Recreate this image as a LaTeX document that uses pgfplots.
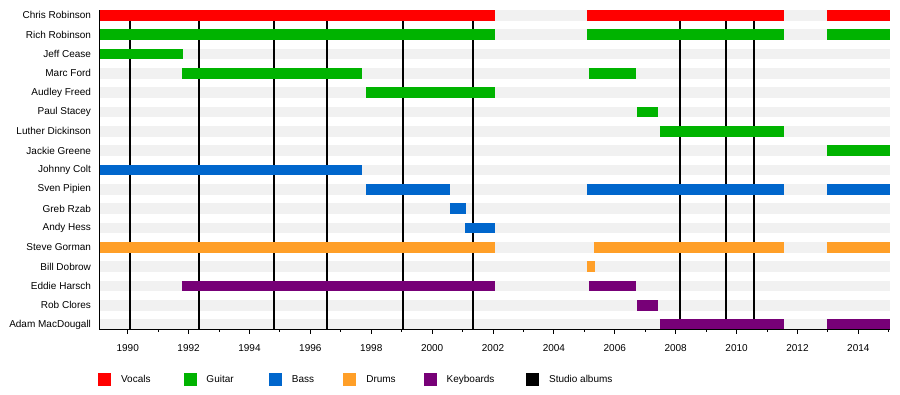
\documentclass[border=0pt]{standalone}
\usepackage{pgfplots}
\pgfplotsset{compat=1.18}
\usepackage{fontspec}
\setmainfont{Liberation Sans}
\definecolor{cvoc}{HTML}{FF0000}
\definecolor{cgui}{HTML}{00B300}
\definecolor{cbas}{HTML}{0066CC}
\definecolor{cdru}{HTML}{FF9F28}
\definecolor{ckey}{HTML}{770077}
\definecolor{cstripe}{HTML}{F1F1F1}
\begin{document}
\begin{tikzpicture}
\begin{axis}[
  name=ax,
  scale only axis,
  width=790pt, height=320pt,
  xmin=1989.09, xmax=2015.04,
  ymin=-0.276, ymax=16.276,
  axis on top,
  axis x line*=bottom,
  axis y line*=left,
  axis line style={line width=1pt, -},
  unbounded coords=jump,
  xtick={1990,1992,...,2014},
  xticklabels={1990,1992,1994,1996,1998,2000,2002,2004,2006,2008,2010,2012,2014},
  minor xtick={1991,1993,...,2015},
  tick align=outside,
  x tick style={black, line width=1pt},
  major tick length=4pt,
  minor tick length=2pt,
  xticklabel style={yshift=-6.5pt},
  ytick={0,...,16},
  y tick style={draw=none},
  yticklabels={Adam MacDougall,Rob Clores,Eddie Harsch,Bill Dobrow,Steve Gorman,Andy Hess,Greb Rzab,Sven Pipien,Johnny Colt,Jackie Greene,Luther Dickinson,Paul Stacey,Audley Freed,Marc Ford,Jeff Cease,Rich Robinson,Chris Robinson},
  yticklabel style={xshift=-1.5pt},
  every tick label/.append style={font=\fontsize{10}{12}\selectfont},
  /pgf/number format/assume math mode=true,
  legend columns=6,
  legend style={at={(axis description cs:0,0)}, anchor=west, xshift=-1.7pt, yshift=-49.5pt,
    draw=none, fill=none, inner sep=0pt, outer sep=0pt, column sep=0pt,
    nodes={inner sep=0pt, font=\fontsize{10}{12}\selectfont}},
]
% background stripes
\addplot[forget plot, cstripe, line width=10.7pt] coordinates {
(1989.09,0) (2015.04,0) (nan,nan)
(1989.09,1) (2015.04,1) (nan,nan)
(1989.09,2) (2015.04,2) (nan,nan)
(1989.09,3) (2015.04,3) (nan,nan)
(1989.09,4) (2015.04,4) (nan,nan)
(1989.09,5) (2015.04,5) (nan,nan)
(1989.09,6) (2015.04,6) (nan,nan)
(1989.09,7) (2015.04,7) (nan,nan)
(1989.09,8) (2015.04,8) (nan,nan)
(1989.09,9) (2015.04,9) (nan,nan)
(1989.09,10) (2015.04,10) (nan,nan)
(1989.09,11) (2015.04,11) (nan,nan)
(1989.09,12) (2015.04,12) (nan,nan)
(1989.09,13) (2015.04,13) (nan,nan)
(1989.09,14) (2015.04,14) (nan,nan)
(1989.09,15) (2015.04,15) (nan,nan)
(1989.09,16) (2015.04,16)
};
% studio albums
\addplot[forget plot, black, line width=2.2pt] coordinates {
(1990.08,-0.276) (1990.08,16.276) (nan,nan)
(1992.35,-0.276) (1992.35,16.276) (nan,nan)
(1994.81,-0.276) (1994.81,16.276) (nan,nan)
(1996.55,-0.276) (1996.55,16.276) (nan,nan)
(1999.03,-0.276) (1999.03,16.276) (nan,nan)
(2001.35,-0.276) (2001.35,16.276) (nan,nan)
(2008.15,-0.276) (2008.15,16.276) (nan,nan)
(2009.66,-0.276) (2009.66,16.276) (nan,nan)
(2010.58,-0.276) (2010.58,16.276)
};
% vocals
\addplot[forget plot, cvoc, line width=10.7pt] coordinates {
(1989.09,16) (2002.06,16) (nan,nan)
(2005.08,16) (2011.55,16) (nan,nan)
(2012.97,16) (2015.04,16)
};
% guitar
\addplot[forget plot, cgui, line width=10.7pt] coordinates {
(1989.09,15) (2002.06,15) (nan,nan)
(2005.08,15) (2011.55,15) (nan,nan)
(2012.97,15) (2015.04,15) (nan,nan)
(1989.09,14) (1991.82,14) (nan,nan)
(1991.78,13) (1997.69,13) (nan,nan)
(2005.15,13) (2006.69,13) (nan,nan)
(1997.83,12) (2002.06,12) (nan,nan)
(2006.73,11) (2007.42,11) (nan,nan)
(2007.48,10) (2011.55,10) (nan,nan)
(2012.97,9) (2015.04,9)
};
% bass
\addplot[forget plot, cbas, line width=10.7pt] coordinates {
(1989.09,8) (1997.69,8) (nan,nan)
(1997.83,7) (2000.58,7) (nan,nan)
(2005.08,7) (2011.55,7) (nan,nan)
(2012.97,7) (2015.04,7) (nan,nan)
(2000.58,6) (2001.11,6) (nan,nan)
(2001.08,5) (2002.06,5)
};
% drums
\addplot[forget plot, cdru, line width=10.7pt] coordinates {
(1989.09,4) (2002.06,4) (nan,nan)
(2005.31,4) (2011.55,4) (nan,nan)
(2012.97,4) (2015.04,4) (nan,nan)
(2005.08,3) (2005.34,3)
};
% keyboards
\addplot[forget plot, ckey, line width=10.7pt] coordinates {
(1991.78,2) (2002.06,2) (nan,nan)
(2005.15,2) (2006.69,2) (nan,nan)
(2006.73,1) (2007.42,1) (nan,nan)
(2007.48,0) (2011.55,0) (nan,nan)
(2012.97,0) (2015.04,0)
};
\addlegendimage{legend image code/.code={\fill[cvoc] (0pt,-6pt) rectangle (12pt,6pt); \path (22.4pt,0pt);}}
\addlegendentry{\makebox[62.6pt][l]{Vocals}}
\addlegendimage{legend image code/.code={\fill[cgui] (0pt,-6pt) rectangle (12pt,6pt); \path (22.4pt,0pt);}}
\addlegendentry{\makebox[62.6pt][l]{Guitar}}
\addlegendimage{legend image code/.code={\fill[cbas] (0pt,-6pt) rectangle (12pt,6pt); \path (22.4pt,0pt);}}
\addlegendentry{\makebox[51.6pt][l]{Bass}}
\addlegendimage{legend image code/.code={\fill[cdru] (0pt,-6pt) rectangle (12pt,6pt); \path (22.4pt,0pt);}}
\addlegendentry{\makebox[57.6pt][l]{Drums}}
\addlegendimage{legend image code/.code={\fill[ckey] (0pt,-6pt) rectangle (12pt,6pt); \path (22.4pt,0pt);}}
\addlegendentry{\makebox[79.6pt][l]{Keyboards}}
\addlegendimage{legend image code/.code={\fill[black] (0pt,-6pt) rectangle (12pt,6pt); \path (22.4pt,0pt);}}
\addlegendentry{Studio albums}
\end{axis}
\path (ax.south west) ++(-100pt,-65pt) rectangle ++(900pt,395pt);
\end{tikzpicture}
\end{document}
